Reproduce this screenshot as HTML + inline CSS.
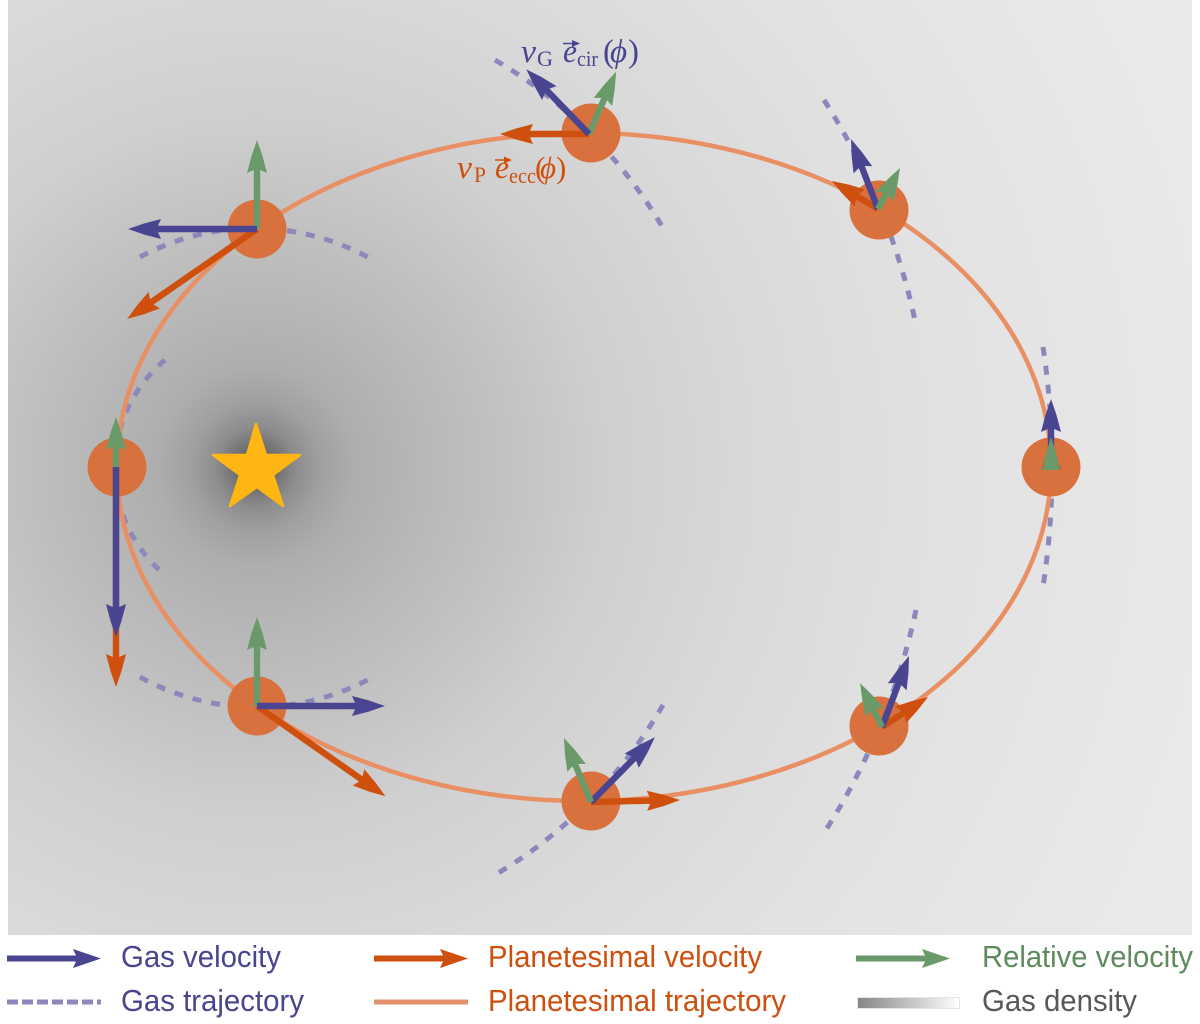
<!DOCTYPE html>
<html>
<head>
<meta charset="utf-8">
<style>
html,body{margin:0;padding:0;background:#fff;}
svg{display:block;}
text{font-family:"Liberation Sans",sans-serif;}
.m{font-family:"Liberation Serif",serif;}
</style>
</head>
<body>
<svg width="1200" height="1024" viewBox="0 0 1200 1024" xmlns="http://www.w3.org/2000/svg">
<defs>
<radialGradient id="bg" gradientUnits="userSpaceOnUse" cx="256" cy="467" r="1000">
<stop offset="0" stop-color="#4a4a4a"/>
<stop offset="0.02" stop-color="#6e6e6e"/>
<stop offset="0.04" stop-color="#8c8c8c"/>
<stop offset="0.065" stop-color="#a0a0a0"/>
<stop offset="0.1" stop-color="#aeaeae"/>
<stop offset="0.17" stop-color="#b8b8b8"/>
<stop offset="0.25" stop-color="#c2c2c2"/>
<stop offset="0.35" stop-color="#cfcfcf"/>
<stop offset="0.5" stop-color="#d9d9d9"/>
<stop offset="0.7" stop-color="#e2e2e2"/>
<stop offset="1" stop-color="#eaeaea"/>
</radialGradient>
<linearGradient id="lg" x1="0" y1="0" x2="1" y2="0">
<stop offset="0" stop-color="#858585"/>
<stop offset="1" stop-color="#ffffff"/>
</linearGradient>
</defs>

<rect x="8" y="0" width="1184" height="935" fill="url(#bg)"/>

<!-- gas trajectories -->
<g fill="none" stroke="#8C88BC" stroke-width="5" stroke-dasharray="9 10">
<path d="M495 60 A472 472 0 0 1 663 228"/>
<path d="M140 257 A240 240 0 0 1 373 260"/>
<path d="M165 360 A140 140 0 0 0 165 575"/>
<path d="M140 677 A240 240 0 0 0 373 677"/>
<path d="M824 100 A675 675 0 0 1 916 325"/>
<path d="M1043 347 A796 796 0 0 1 1043 587"/>
<path d="M916 610 A675 675 0 0 1 824 833"/>
<path d="M663 705 A472 472 0 0 1 495 875"/>
</g>

<!-- planetesimal trajectory -->
<ellipse cx="584" cy="467" rx="467" ry="334" fill="none" stroke="#E88F63" stroke-width="4.5"/>

<!-- planetesimals -->
<g fill="#D9713F">
<circle cx="591" cy="133" r="29.5"/>
<circle cx="257" cy="229" r="29.5"/>
<circle cx="879" cy="210" r="29.5"/>
<circle cx="117" cy="467" r="29.5"/>
<circle cx="1051" cy="467" r="29.5"/>
<circle cx="257" cy="706" r="29.5"/>
<circle cx="591" cy="801" r="29.5"/>
<circle cx="879" cy="726" r="29.5"/>
</g>

<!-- star -->
<polygon points="256,424 266,455 300,455 273,475 283,506 257,487 230,506 240,475 213,455 247,455" fill="#FFB612" stroke="#FFB612" stroke-width="2.5" stroke-linejoin="round"/>

<!-- orange arrows -->
<g fill="#CF4F0E">
<path transform="translate(589 134) rotate(180)" d="M0 -3.2H59L56 -10L73 -5.500L89 0L73 5.500L56 10L59 3.2H0Z"/>
<path transform="translate(257 229) rotate(145.3)" d="M0 -3.2H128L125 -10L142 -5.500L158 0L142 5.500L125 10L128 3.2H0Z"/>
<path transform="translate(878 209) rotate(-148.7)" d="M0 -3.2H24L21 -10L38 -5.500L54 0L38 5.500L21 10L24 3.2H0Z"/>
<path transform="translate(116 467) rotate(90)" d="M0 -3.2H190L187 -10L204 -5.500L220 0L204 5.500L187 10L190 3.2H0Z"/>
<path transform="translate(1051 470) rotate(-90)" d="M0 -10L14 -5.500L30 0L14 5.500L0 10Z"/>
<path transform="translate(257 706) rotate(35.1)" d="M0 -3.2H127L124 -10L141 -5.500L157 0L141 5.500L124 10L127 3.2H0Z"/>
<path transform="translate(591 802) rotate(-1.3)" d="M0 -3.2H59L56 -10L73 -5.500L89 0L73 5.500L56 10L59 3.2H0Z"/>
<path transform="translate(882 727) rotate(-33.1)" d="M0 -3.2H25L22 -10L39 -5.500L55 0L39 5.500L22 10L25 3.2H0Z"/>
</g>

<!-- green arrows -->
<g fill="#6A9A6A">
<path transform="translate(589 134) rotate(-66.5)" d="M0 -3.2H38L35 -10L52 -5.500L68 0L52 5.500L35 10L38 3.2H0Z"/>
<path transform="translate(257 229) rotate(-90)" d="M0 -3.2H59L56 -10L73 -5.500L89 0L73 5.500L56 10L59 3.2H0Z"/>
<path transform="translate(116 467) rotate(-90)" d="M0 -3.2H20L17 -10L34 -5.500L50 0L34 5.500L17 10L20 3.2H0Z"/>
<path transform="translate(257 706) rotate(-90)" d="M0 -3.2H59L56 -10L73 -5.500L89 0L73 5.500L56 10L59 3.2H0Z"/>
</g>

<!-- blue arrows -->
<g fill="#4A4590">
<path transform="translate(589 134) rotate(-134.1)" d="M0 -3.2H60L57 -10L74 -5.500L90 0L74 5.500L57 10L60 3.2H0Z"/>
<path transform="translate(257 229) rotate(180)" d="M0 -3.2H99L96 -10L113 -5.500L129 0L113 5.500L96 10L99 3.2H0Z"/>
<path transform="translate(878 209) rotate(-111.1)" d="M0 -3.2H45L42 -10L59 -5.500L75 0L59 5.500L42 10L45 3.2H0Z"/>
<path transform="translate(116 467) rotate(90)" d="M0 -3.2H140L137 -10L154 -5.500L170 0L154 5.500L137 10L140 3.2H0Z"/>
<path transform="translate(1051 470) rotate(-90)" d="M0 -3.2H41L38 -10L55 -5.500L71 0L55 5.500L38 10L41 3.2H0Z"/>
<path transform="translate(257 706)" d="M0 -3.2H98L95 -10L112 -5.500L128 0L112 5.500L95 10L98 3.2H0Z"/>
<path transform="translate(591 802) rotate(-45.4)" d="M0 -3.2H61L58 -10L75 -5.500L91 0L75 5.500L58 10L61 3.2H0Z"/>
<path transform="translate(882 727) rotate(-69.2)" d="M0 -3.2H46L43 -10L60 -5.500L76 0L60 5.500L43 10L46 3.2H0Z"/>
</g>

<!-- green arrows above blue -->
<g fill="#6A9A6A">
<path transform="translate(878 209) rotate(-61.8)" d="M0 -3.2H17L14 -10L31 -5.500L46.500 0L31 5.500L14 10L17 3.2H0Z"/>
<path transform="translate(1051 470) rotate(-90)" d="M0 -9L17 -5L33 0L17 5L0 9Z"/>
<path transform="translate(591 802) rotate(-112.9)" d="M0 -3.2H40L37 -10L54 -5.500L69.500 0L54 5.500L37 10L40 3.2H0Z"/>
<path transform="translate(882 727) rotate(-116.6)" d="M0 -3.2H19L16 -10L33 -5.500L49 0L33 5.500L16 10L19 3.2H0Z"/>
</g>

<!-- math label: gas -->
<g fill="#4A4590">
<text class="m" x="521" y="62" font-size="33" font-style="italic" textLength="15" lengthAdjust="spacingAndGlyphs">v</text>
<text class="m" x="537" y="66" font-size="22" textLength="16" lengthAdjust="spacingAndGlyphs">G</text>
<text class="m" x="563" y="62" font-size="33" font-style="italic" textLength="14" lengthAdjust="spacingAndGlyphs">e</text>
<path d="M563 43.500H576" stroke="#4A4590" stroke-width="1.500" fill="none"/>
<path d="M580 43.500L572 40V47Z"/>
<text class="m" x="577" y="66" font-size="22" textLength="21" lengthAdjust="spacingAndGlyphs">cir</text>
<text class="m" x="603" y="62" font-size="33">(</text>
<text class="m" x="610" y="62" font-size="33" font-style="italic">ϕ</text>
<text class="m" x="628" y="62" font-size="33">)</text>
</g>

<!-- math label: planetesimal -->
<g fill="#CF4F0E">
<text class="m" x="457" y="178" font-size="33" font-style="italic" textLength="15" lengthAdjust="spacingAndGlyphs">v</text>
<text class="m" x="474" y="182" font-size="22" textLength="12" lengthAdjust="spacingAndGlyphs">P</text>
<text class="m" x="495" y="178" font-size="33" font-style="italic" textLength="14" lengthAdjust="spacingAndGlyphs">e</text>
<path d="M495 160H508" stroke="#CF4F0E" stroke-width="1.500" fill="none"/>
<path d="M512 160L504 156.500V163.500Z"/>
<text class="m" x="509" y="183" font-size="22" textLength="27" lengthAdjust="spacingAndGlyphs">ecc</text>
<text class="m" x="535" y="178" font-size="31">(</text>
<text class="m" x="540" y="178" font-size="31" font-style="italic">ϕ</text>
<text class="m" x="556" y="178" font-size="31">)</text>
</g>

<!-- legend -->
<path d="M7 955.500H76L73 949L101 958.500L73 968L76 961.500H7Z" fill="#4A4590"/>
<path d="M374 955.500H443L440 949L468 958.500L440 968L443 961.500H374Z" fill="#CF4F0E"/>
<path d="M856 955.500H925L922 949L950 958.500L922 968L925 961.500H856Z" fill="#6A9A6A"/>
<path d="M7 1002H101" stroke="#8C88BC" stroke-width="5" stroke-dasharray="11 4" fill="none"/>
<path d="M374 1002H468" stroke="#E3916A" stroke-width="5" fill="none"/>
<rect x="857.500" y="997.500" width="102" height="11" fill="url(#lg)" stroke="#e4e4e4" stroke-width="1"/>

<g font-size="31">
<text x="121" y="967" fill="#4A4590" textLength="160" lengthAdjust="spacingAndGlyphs">Gas velocity</text>
<text x="121" y="1011" fill="#4A4590" textLength="183" lengthAdjust="spacingAndGlyphs">Gas trajectory</text>
<text x="488" y="967" fill="#CF4F0E" textLength="274" lengthAdjust="spacingAndGlyphs">Planetesimal velocity</text>
<text x="488" y="1011" fill="#CF4F0E" textLength="298" lengthAdjust="spacingAndGlyphs">Planetesimal trajectory</text>
<text x="982" y="967" fill="#5E8A5E" textLength="211" lengthAdjust="spacingAndGlyphs">Relative velocity</text>
<text x="982" y="1011" fill="#58585A" textLength="155" lengthAdjust="spacingAndGlyphs">Gas density</text>
</g>
</svg>
</body>
</html>
